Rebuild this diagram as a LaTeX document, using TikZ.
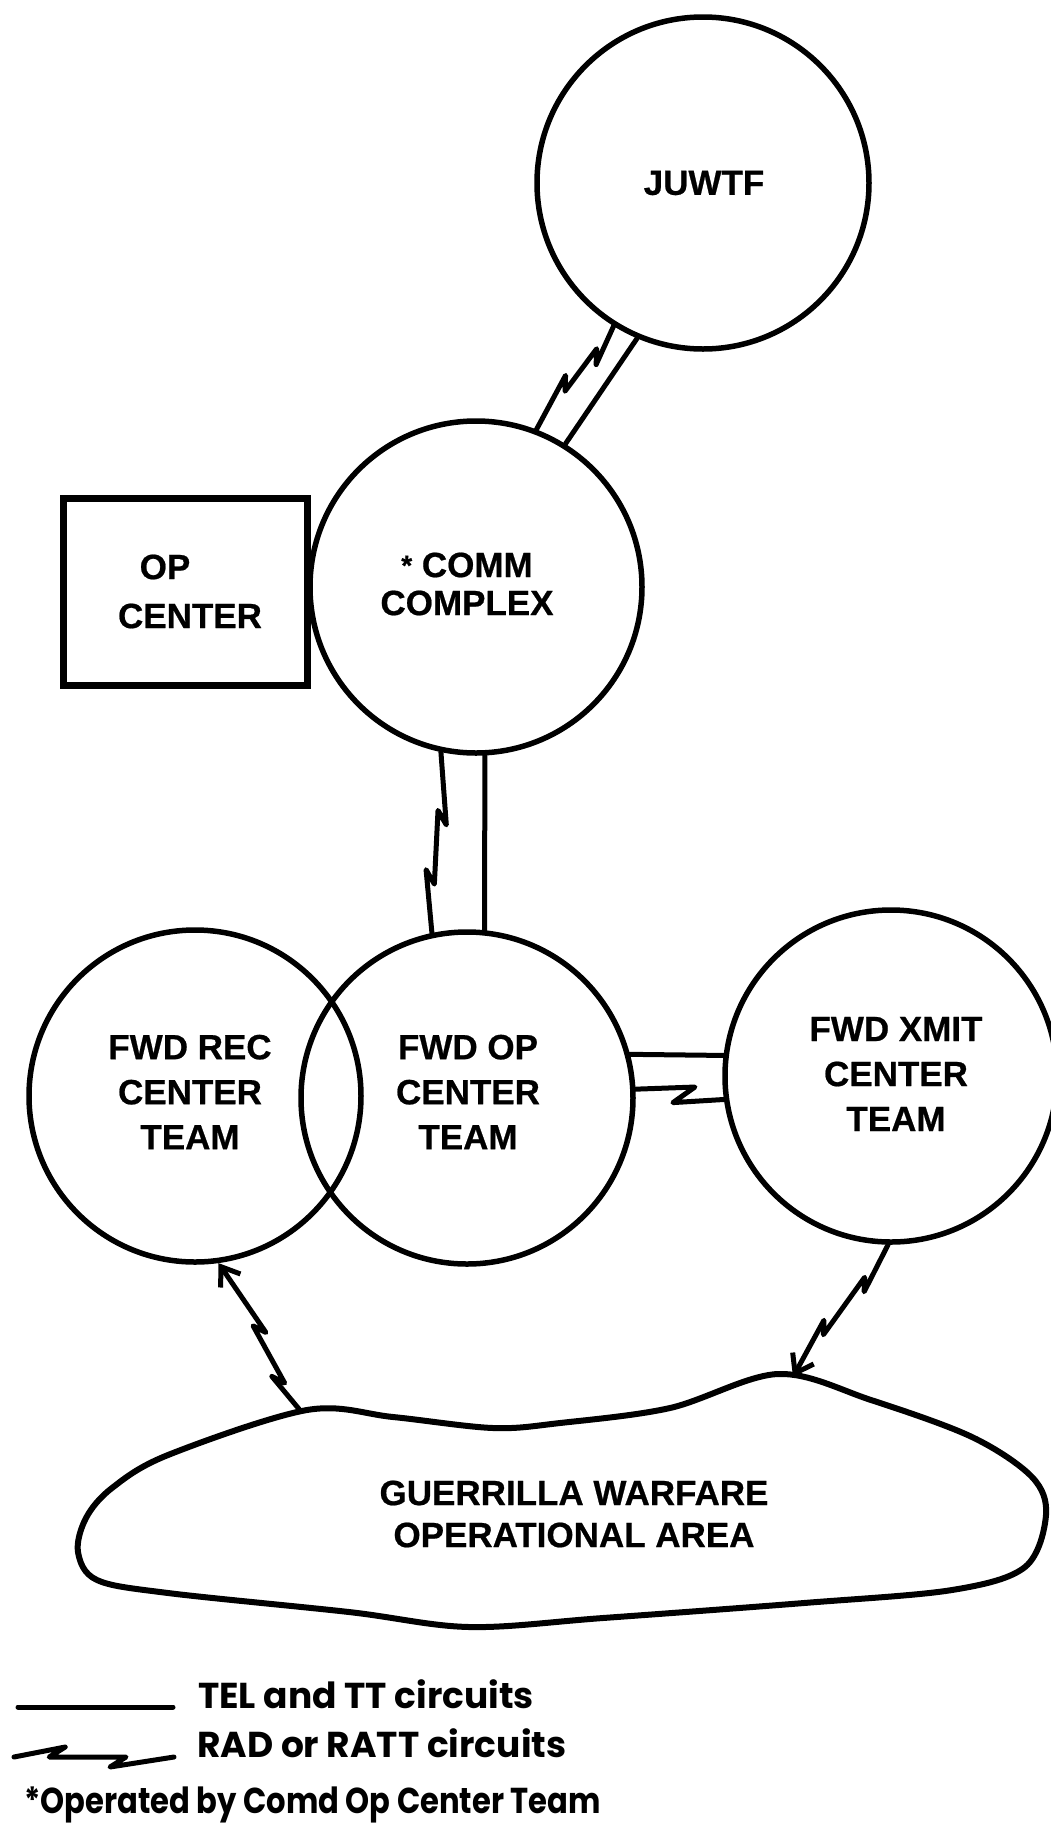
\documentclass[tikz,border=0pt]{standalone}
\usepackage{fontspec}
\setmainfont{Liberation Sans}[BoldFeatures={FakeBold=0.6}]
\newfontfamily\legfont{Poppins}
\usetikzlibrary{calc,arrows.meta}
\tikzset{
  circ/.style={circle, draw, line width=5.5pt, minimum size=332pt, inner sep=0pt},
  lbl/.style={align=center, inner sep=0pt, font=\fontsize{35}{45}\selectfont\bfseries},
  link/.style={line width=5pt, line join=round, line cap=round},
  radarrow/.style={link, -{Straight Barb[length=17pt,width=24pt]}},
  legtxt/.style={anchor=base west, inner sep=0pt, font=\legfont\bfseries\fontsize{36}{40}\selectfont},
}
% radio link with two kinks: opts, start, end, f1, f2, shift, back
\newcommand\bolttwo[7]{%
  \draw[#1] (#2) -- ($(#2)!#4!(#3)!#6pt!90:(#3)$)
    -- ($(#2)!#4!(#3)!#7pt!180:(#3)$)
    -- ($(#2)!#5!(#3)$)
    -- ($(#2)!#5!(#3)!#7pt!180:(#3)!#6pt!-90:(#3)$) -- (#3);}
% radio link with one kink: opts, start, end, f, shift, back
\newcommand\boltone[6]{%
  \draw[#1] (#2) -- ($(#2)!#4!(#3)!#5pt!90:(#3)$)
    -- ($(#2)!#4!(#3)!#6pt!180:(#3)!#5pt!-90:(#3)$) -- (#3);}
\begin{document}
\begin{tikzpicture}[x=1pt,y=-1pt]
\useasboundingbox (0,0) rectangle (1051,1824);
\fill[white] (0,0) rectangle (1051,1824);

% circles
\node[circ] (juwtf) at (703,183) {};
\node[circ] (comm) at (476,587) {};
\node[circ] (rec) at (195,1096) {};
\node[circ] (fop) at (467,1098) {};
\node[circ] (xmit) at (891,1076) {};
\node[draw, line width=7pt, minimum width=244pt, minimum height=187pt, inner sep=0pt,
      align=center, font=\fontsize{35}{49}\selectfont\bfseries] (opc) at (185,591.5)
      {OP\hspace*{40pt}\\\hspace*{10pt}CENTER};

% labels
\node[lbl] (tJ) at (704,183) {JUWTF};
\node[lbl, font=\fontsize{35}{38}\selectfont\bfseries] (tC) at (467,584) {{\fontsize{28}{28}\selectfont\raisebox{2pt}{*}} COMM\\COMPLEX};
\node[lbl] (tR) at (190,1092) {FWD REC\\CENTER\\TEAM};
\node[lbl] (tO) at (468,1092) {FWD OP\\CENTER\\TEAM};
\node[lbl] (tX) at (896,1074) {FWD XMIT\\CENTER\\TEAM};

% operational area
\draw[line width=6pt, line join=round]
  plot[smooth cycle, tension=0.55] coordinates {
  (307,1410) (393,1417) (493,1428) (560,1423) (670,1408) (778,1374)
  (871,1400) (972,1437) (1032,1477) (1046,1515) (1025,1567) (952,1590)
  (804,1603) (603,1618) (469,1627) (349,1612) (168,1593) (97,1580)
  (78,1552) (86,1518) (112,1488) (168,1455)};
\node[lbl, font=\fontsize{35}{42}\selectfont\bfseries] (tA) at (574,1514) {GUERRILLA WARFARE\\OPERATIONAL AREA};
\coordinate (gwS) at (299,1409);
\coordinate (gwE) at (793,1377);

% wire links
\draw[link] (comm.58) -- (juwtf.247);
\draw[link] (comm.273) -- (fop.84);
\draw[link] (fop.15) -- (xmit.173);

% radio links
\bolttwo{link}{juwtf.238}{comm.69}{0.32}{0.63}{9}{13}
\bolttwo{link}{comm.258}{fop.102}{0.4}{0.73}{9}{14}
\boltone{link}{fop.3.5}{xmit.188.6}{0.66}{9}{20}
\bolttwo{radarrow}{gwS}{rec.278}{0.25}{0.57}{8}{12}
\bolttwo{radarrow}{xmit.269}{gwE}{0.32}{0.68}{8}{12}

% legend
\coordinate (l1a) at (18,1707);
\coordinate (l1b) at (173,1707);
\draw[link] (l1a) -- (l1b);
\coordinate (l2a) at (14,1757);
\coordinate (l2b) at (174,1757);
\bolttwo{link}{l2a}{l2b}{0.32}{0.7}{10}{16}
\node[legtxt] (leg1) at (198,1708) {TEL and TT circuits};
\node[legtxt] (leg2) at (197,1757) {RAD or RATT circuits};
\node[legtxt] (note) at (24,1813) {\scalebox{0.85}[1]{*Operated by Comd Op Center Team}};
\end{tikzpicture}
\end{document}
